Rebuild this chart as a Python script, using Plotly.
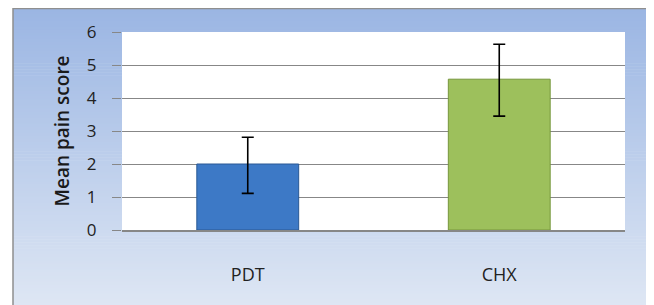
import plotly.graph_objects as go

# ---- data ----
categories = ["PDT", "CHX"]
means = [2.0, 4.57]
err_plus = [0.81, 1.06]
err_minus = [0.89, 1.12]
bar_colors = ["#3d79c6", "#9dc05c"]
edge_colors = ["#2a5994", "#76963c"]
y_ticks = [0, 1, 2, 3, 4, 5, 6]

# page body has an 8px margin, so the figure is placed at (8, 8)
OFF = 8
W, H = 654 - OFF, 305 - OFF
L, R, T, B = 122 - OFF, 29, 32 - OFF, 75

fig = go.Figure()
fig.add_trace(go.Bar(
    x=categories, y=means, width=0.405,
    marker=dict(color=bar_colors, line=dict(color=edge_colors, width=1)),
    error_y=dict(type="data", symmetric=False, array=err_plus, arrayminus=err_minus,
                 color="black", thickness=1.6, width=6),
    showlegend=False, hoverinfo="skip",
))

# helpers: screen pixel -> paper coords
pw, ph = W - L - R, H - T - B
def px(x):
    return (x - OFF - L) / pw
def py(y):
    return (H - B - (y - OFF)) / ph

shapes = []
top_rgb = (155, 182, 227)
bot_rgb = (223, 231, 244)
y0_box, y1_box, x0_box, x1_box = 8.5, 312, 13, 651.5
n = 100
step = (y1_box - y0_box) / n
for i in range(n):
    t = i / (n - 1)
    c = tuple(round(a + (b - a) * t) for a, b in zip(top_rgb, bot_rgb))
    shapes.append(dict(type="rect", xref="paper", yref="paper", layer="below",
                       x0=px(x0_box), x1=px(x1_box),
                       y0=py(y0_box + i * step), y1=py(y0_box + (i + 1) * step + 0.6),
                       fillcolor="rgb(%d,%d,%d)" % c, line=dict(width=0)))
shapes.append(dict(type="rect", xref="paper", yref="paper", layer="below",
                   x0=0, x1=1, y0=0, y1=1, fillcolor="white", line=dict(width=0)))
shapes.append(dict(type="rect", xref="paper", yref="paper", layer="below",
                   x0=px(x0_box), x1=px(x1_box), y0=py(y0_box), y1=py(y1_box),
                   fillcolor="rgba(0,0,0,0)", line=dict(color="#8f8f8f", width=1.5)))

fig.update_layout(
    width=W, height=H,
    margin=dict(l=L, r=R, t=T, b=B, autoexpand=False),
    paper_bgcolor="white", plot_bgcolor="white",
    font=dict(family="Open Sans, Liberation Sans, sans-serif", color="#1a1a1a"),
    bargap=0.595,
    shapes=shapes,
)
fig.update_yaxes(
    range=[0, 6], tickvals=y_ticks, ticktext=[str(v) for v in y_ticks],
    showgrid=True, gridcolor="#878787", gridwidth=1,
    ticks="outside", ticklen=9, tickcolor="#878787", tickwidth=1,
    ticklabelstandoff=12,
    tickfont=dict(size=17, color="#222"),
    zeroline=False, showline=False, automargin=False,
    title=dict(text="Mean pain score", font=dict(size=19, color="#1a1a1a", weight=600), standoff=12),
)
fig.update_xaxes(
    showline=True, linecolor="#878787", linewidth=1.5,
    ticks="", ticklabelstandoff=28, automargin=False,
    tickfont=dict(size=18, color="#222"),
    showgrid=False,
)

fig.write_html("out.html")
